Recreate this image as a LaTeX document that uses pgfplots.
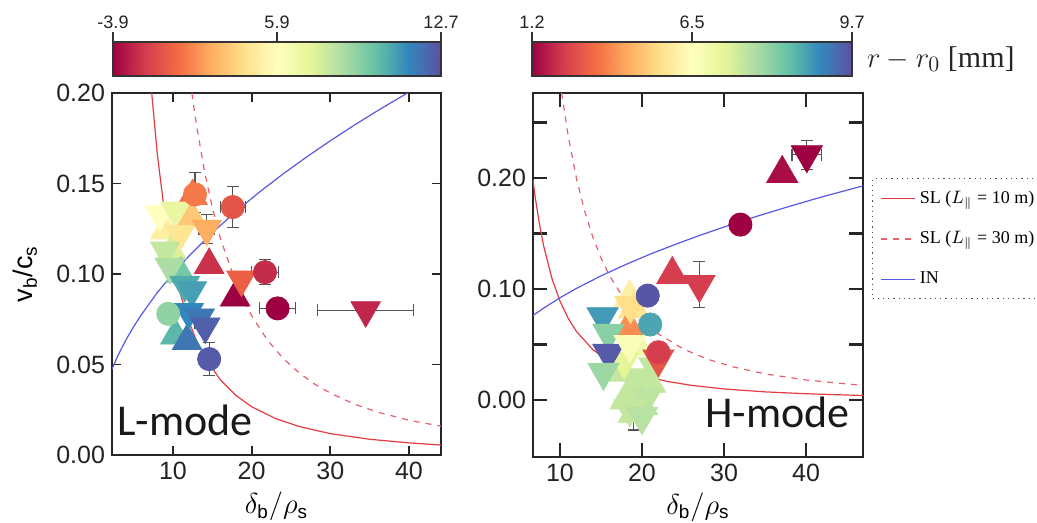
\documentclass[border=0pt]{standalone}
\usepackage{fontspec}
\setmainfont{Liberation Sans}
\newfontfamily\timesf{Liberation Serif}
\newfontfamily\carlito{Carlito}
\usepackage{pgfplots}
\pgfplotsset{compat=1.18}

\definecolor{slred}{RGB}{226,60,66}
\definecolor{sldash}{RGB}{230,96,110}
\definecolor{inblue}{RGB}{88,88,228}
\definecolor{errgray}{RGB}{85,85,85}
\definecolor{ticktext}{RGB}{35,35,35}

\pgfplotsset{
  colormap={spectralr}{rgb255=(158,1,66) rgb255=(213,62,79) rgb255=(244,109,67)
    rgb255=(253,174,97) rgb255=(254,224,139) rgb255=(255,255,191) rgb255=(230,245,152)
    rgb255=(171,221,164) rgb255=(102,194,165) rgb255=(50,136,189) rgb255=(94,79,162)},
  panel/.style={scale only axis, anchor=north west, tick align=inside,
    point meta min=0, point meta max=1,
    ticklabel style={font=\fontsize{12.5}{14}\selectfont, text=ticktext},
    /pgf/number format/.cd, fixed, fixed zerofill, precision=2, assume math mode=true, /pgfplots/.cd,
    tick style={black!85},
    axis line style={black!85}},
  cbar/.style={scale only axis, anchor=north west, ymin=0, ymax=1, xmin=0, xmax=1,
    ytick=\empty, xtick={0,0.5,1}, xtick pos=right, xticklabel pos=right,
    tick align=outside, major tick length=5pt, axis on top,
    point meta min=0, point meta max=1,
    ticklabel style={font=\fontsize{9}{10}\selectfont, text=ticktext, inner sep=1.5pt},
    axis line style={line width=0.9pt, black!80}, tick style={line width=0.9pt, black!80}},
  dots/.style={scatter, only marks, scatter src=explicit, forget plot,
    scatter/use mapped color={draw=mapped color, fill=mapped color}},
  errs/.style={draw=none, mark=none, forget plot,
    error bars/.cd, x dir=both, x explicit, y dir=both, y explicit,
    error bar style={draw=errgray, line width=0.6pt, solid},
    error mark options={rotate=90, mark size=3pt, draw=errgray, line width=0.6pt}},
}

\begin{document}
\begin{tikzpicture}
\useasboundingbox (0,0) rectangle (518.5pt,-261.5pt);

% ---------------- colour bars
\begin{axis}[cbar, at={(56.5pt,-21pt)}, width=164pt, height=17pt,
    xticklabels={-3.9,5.9,12.7}]
  \addplot[surf, shader=interp, mesh/rows=2, point meta=x] coordinates {
    (0,0) (0.1,0) (0.2,0) (0.3,0) (0.4,0) (0.5,0) (0.6,0) (0.7,0) (0.8,0) (0.9,0) (1,0)
    (0,1) (0.1,1) (0.2,1) (0.3,1) (0.4,1) (0.5,1) (0.6,1) (0.7,1) (0.8,1) (0.9,1) (1,1)};
\end{axis}
\begin{axis}[cbar, at={(266pt,-21pt)}, width=160pt, height=17pt,
    xticklabels={1.2,6.5,9.7}]
  \addplot[surf, shader=interp, mesh/rows=2, point meta=x] coordinates {
    (0,0) (0.1,0) (0.2,0) (0.3,0) (0.4,0) (0.5,0) (0.6,0) (0.7,0) (0.8,0) (0.9,0) (1,0)
    (0,1) (0.1,1) (0.2,1) (0.3,1) (0.4,1) (0.5,1) (0.6,1) (0.7,1) (0.8,1) (0.9,1) (1,1)};
\end{axis}
\node[anchor=west, font=\timesf\fontsize{15}{18}\selectfont, text=black!85] at (430pt,-29.5pt)
  {$r-r_0$ [mm]};

% ---------------- L-mode panel
\begin{axis}[panel, at={(56pt,-46.5pt)}, width=164.5pt, height=181pt,
    xmin=2.25, xmax=44.07, ymin=0, ymax=0.2,
    xtick={10,20,30,40}, ytick={0,0.05,0.1,0.15,0.2},
    xticklabel style={/pgf/number format/precision=0},
    major tick length=4.5pt, axis line style={line width=1pt}, tick style={line width=0.9pt},
    xlabel={$\delta_{\mathrm{b}}/\rho_{\mathrm{s}}$},
    xlabel style={font=\fontsize{13.5}{15}\selectfont, at={(axis description cs:0.5,-0.143)}, anchor=center},
    ylabel={v\textsubscript{b}/c\textsubscript{s}},
    ylabel style={font=\fontsize{13.5}{15}\selectfont, at={(axis description cs:-0.264,0.5)}, anchor=center},
  ]
  % up triangles
  \addplot[dots, mark=triangle*, mark size=8.5pt] table[meta=c] {
    x y c
    9.0 0.124 0.45
    12.4 0.131 0.35
    9.8 0.113 0.62
    11.0 0.100 0.78
    10.3 0.066 0.82
    11.8 0.063 0.93
    12.5 0.143 0.20
    14.6 0.105 0.08
    17.9 0.087 0.00
  };
  % down triangles
  \addplot[dots, mark=triangle*, mark size=8.5pt, mark options={rotate=180}] table[meta=c] {
    x y c
    8.3 0.133 0.50
    10.3 0.135 0.58
    10.9 0.122 0.42
    9.0 0.113 0.66
    9.6 0.104 0.70
    11.5 0.094 0.84
    12.4 0.091 0.86
    12.0 0.079 0.90
    13.4 0.076 0.93
    14.1 0.071 0.97
    14.3 0.125 0.30
    18.7 0.097 0.17
    34.5 0.080 0.06
  };
  % circles
  \addplot[dots, mark=*, mark size=5.8pt] table[meta=c] {
    x y c
    9.4 0.078 0.74
    14.6 0.053 0.98
    12.8 0.144 0.22
    17.6 0.137 0.15
    21.7 0.101 0.07
    23.3 0.081 0.00
  };
  \addplot[errs] coordinates {
    (12.8,0.145) +- (0.8,0.011)
    (17.6,0.137) +- (1.6,0.0115)
    (21.7,0.101) +- (1.7,0.007)
    (23.3,0.081) +- (2.3,0)
    (34.5,0.080) +- (6.1,0)
    (14.6,0.053) +- (0,0.009)
    (14.3,0.125) +- (1.0,0.008)
    (9.5,0.113) +- (0.8,0.003)
    (11.5,0.094) +- (0.8,0)
    (13.4,0.073) +- (0.6,0)
  };
  % model curves
  \addplot[slred, solid, line width=0.6pt] coordinates {
    (7.3,0.200) (8,0.1666) (9,0.1316) (10,0.1066) (11,0.0881) (12,0.0740) (13,0.0631)
    (14,0.0544) (16,0.0416) (18,0.0329) (20,0.0267) (23,0.0202) (26,0.0158) (30,0.0118)
    (35,0.0087) (40,0.0067) (44.1,0.0055)};
  \addplot[sldash, dashed, line width=0.6pt] coordinates {
    (12.4,0.200) (13,0.1820) (14,0.1569) (15,0.1367) (16,0.1201) (18,0.0949) (20,0.0769)
    (22,0.0635) (24,0.0534) (26,0.0455) (28,0.0392) (30,0.0342) (33,0.0282) (36,0.0237)
    (40,0.0192) (44.1,0.0159)};
  \addplot[inblue, solid, line width=0.6pt] coordinates {
    (2.2,0.0470) (3,0.0549) (4,0.0634) (5,0.0709) (6,0.0776) (8,0.0897) (10,0.1002)
    (12,0.1098) (15,0.1228) (18,0.1345) (21,0.1453) (24,0.1553) (27,0.1647) (30,0.1736)
    (33,0.1821) (36,0.1902) (39.8,0.2000)};
  \node[anchor=base west, font=\carlito\fontsize{22}{24}\selectfont, text=black!90, inner sep=0pt]
    at (axis cs:2.85,0.011) {L-mode};
\end{axis}

% ---------------- H-mode panel
\begin{axis}[panel, at={(266.5pt,-46.5pt)}, width=165pt, height=182pt,
    xmin=6.71, xmax=46.95, ymin=-0.0514, ymax=0.2766,
    xtick={10,20,30,40}, ytick={0,0.1,0.2}, minor ytick={0.05,0.15,0.25},
    xticklabel style={/pgf/number format/precision=0},
    major tick length=7pt, minor tick length=7pt,
    axis line style={line width=1.3pt}, tick style={line width=1.1pt},
    xlabel={$\delta_{\mathrm{b}}/\rho_{\mathrm{s}}$},
    xlabel style={font=\fontsize{13.5}{15}\selectfont, at={(axis description cs:0.5,-0.137)}, anchor=center},
    legend style={at={(rel axis cs:1.027,0.766)}, anchor=north west,
      draw=black!70, dotted, line width=0.6pt, fill=white,
      font=\timesf\fontsize{9}{11}\selectfont, row sep=8.5pt, inner sep=4pt},
    legend cell align=left,
  ]
  % up triangles
  \addplot[dots, mark=triangle*, mark size=9pt] table[meta=c] {
    x y c
    17.5 0.025 0.66
    21.0 0.015 0.66
    19.0 0.010 0.67
    18.0 0.000 0.66
    20.0 -0.005 0.68
    19.0 -0.012 0.66
    19.5 0.048 0.55
    18.5 0.092 0.45
    19.0 0.082 0.42
    18.4 0.065 0.25
    23.7 0.113 0.10
    37.1 0.204 0.02
  };
  % down triangles
  \addplot[dots, mark=triangle*, mark size=9pt, mark options={rotate=180}] table[meta=c] {
    x y c
    19.0 0.020 0.66
    20.5 0.002 0.67
    18.5 -0.008 0.66
    20.0 -0.015 0.68
    21.5 0.030 0.66
    17.8 0.035 0.60
    15.2 0.075 0.87
    15.9 0.060 0.75
    18.6 0.085 0.40
    15.9 0.042 0.98
    18.5 0.050 0.52
    15.3 0.025 0.72
    22.0 0.037 0.15
    27.0 0.104 0.10
    40.1 0.221 0.00
  };
  % circles
  \addplot[dots, mark=*, mark size=5.8pt] table[meta=c] {
    x y c
    20.7 0.094 0.99
    21.0 0.068 0.85
    22.0 0.043 0.10
    32.0 0.158 0.00
  };
  \addplot[errs] coordinates {
    (40.1,0.221) +- (1.8,0.013)
    (37.1,0.204) +- (0,0.006)
    (27.0,0.104) +- (0,0.021)
    (19.0,-0.005) +- (0,0.022)
    (22.0,0.043) +- (0,0.006)
  };
  % model curves
  \addplot[slred, solid, line width=0.6pt] coordinates {
    (6.7,0.1983) (7,0.1816) (7.5,0.1582) (8,0.1391) (9,0.1099) (10,0.0890) (11,0.0736)
    (12,0.0618) (14,0.0454) (16,0.0348) (18,0.0275) (20,0.0223) (23,0.0168) (26,0.0132)
    (30,0.0099) (35,0.0073) (40,0.0056) (47,0.0040)};
  \addlegendentry{SL ($L_{\parallel}$ = 10 m)}
  \addplot[sldash, dashed, line width=0.6pt] coordinates {
    (10.2,0.2768) (11,0.2380) (12,0.2000) (13,0.1704) (14,0.1469) (15,0.1280) (16,0.1125)
    (18,0.0889) (20,0.0720) (22,0.0595) (25,0.0461) (28,0.0367) (31,0.0300) (35,0.0235)
    (40,0.0180) (47,0.0130)};
  \addlegendentry{SL ($L_{\parallel}$ = 30 m)}
  \addplot[inblue, solid, line width=0.6pt] coordinates {
    (6.7,0.0760) (8,0.0827) (10,0.0921) (12,0.1005) (15,0.1118) (18,0.1220) (21,0.1314)
    (24,0.1400) (27,0.1482) (30,0.1558) (34,0.1655) (38,0.1745) (42,0.1831) (47,0.1930)};
  \addlegendentry{IN}
  \node[anchor=base west, font=\carlito\fontsize{22}{24}\selectfont, text=black!90, inner sep=0pt]
    at (axis cs:27.7,-0.025) {H-mode};
\end{axis}
\end{tikzpicture}
\end{document}
